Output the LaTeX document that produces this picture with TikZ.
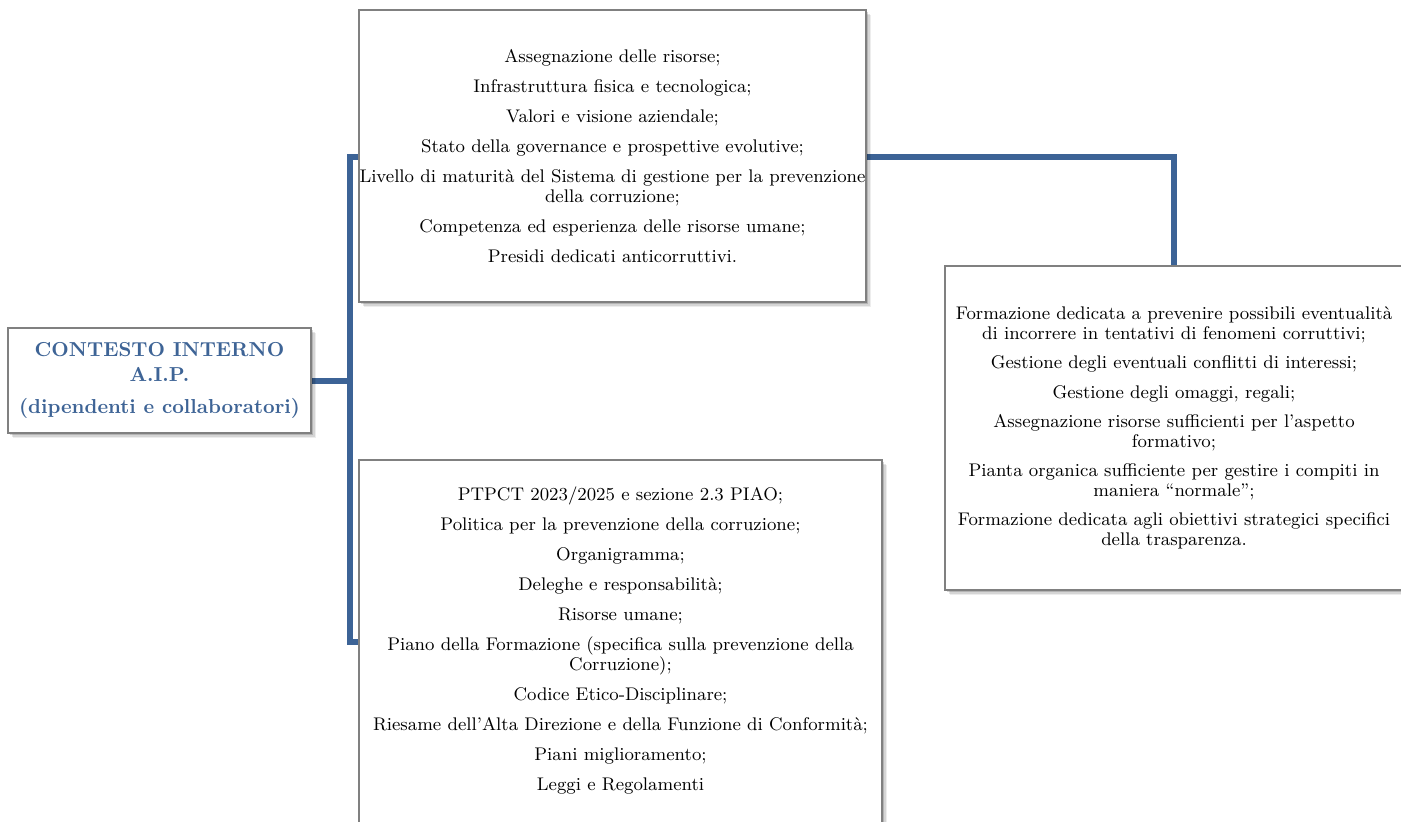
\documentclass[tikz,border=0pt]{standalone}
\usepackage{fontspec}
\usetikzlibrary{shadows,backgrounds}
\definecolor{linkblue}{RGB}{60,99,150}
\definecolor{titleblue}{RGB}{62,100,150}
\definecolor{boxgray}{RGB}{128,128,128}

\begin{document}
\begin{tikzpicture}[x=0.5pt,y=-0.5pt,
  card/.style={draw=boxgray, line width=0.6pt, fill=white, inner sep=0pt,
     drop shadow={shadow xshift=2.6pt, shadow yshift=-2.6pt, fill=black, opacity=0.07},
     drop shadow={shadow xshift=1.8pt, shadow yshift=-1.8pt, fill=black, opacity=0.10},
     drop shadow={shadow xshift=1pt, shadow yshift=-1pt, fill=black, opacity=0.16}},
  body/.style={align=center, font=\fontsize{9.15pt}{10pt}\selectfont},
  title/.style={align=center, text=titleblue, font=\fontsize{10.1pt}{12.5pt}\selectfont\bfseries},
  link/.style={draw=linkblue, line width=3pt}
]
\useasboundingbox (0,0) rectangle (1401,821);

% root card
\node[card, title, minimum width=151.5pt, minimum height=52.5pt] (left) at (159.5,380.5)
  {CONTESTO INTERNO\\ A.I.P.\\[3.5pt] (dipendenti e collaboratori)};

% upper card
\node[card, body, minimum width=253.5pt, minimum height=146pt] (top) at (612.5,156)
  {Assegnazione delle risorse;\\[5pt]
   Infrastruttura fisica e tecnologica;\\[5pt]
   Valori e visione aziendale;\\[5pt]
   Stato della governance e prospettive evolutive;\\[5pt]
   Livello di maturità del Sistema di gestione per la prevenzione\\
   della corruzione;\\[5pt]
   Competenza ed esperienza delle risorse umane;\\[5pt]
   Presidi dedicati anticorruttivi.};

% lower card (runs past the bottom of the page)
\node[card, minimum width=261.5pt, minimum height=195pt] (bot) at (620.5,655) {};
\node[body] (bottext) at (620.5,640.5)
  {PTPCT 2023/2025 e sezione 2.3 PIAO;\\[5pt]
   Politica per la prevenzione della corruzione;\\[5pt]
   Organigramma;\\[5pt]
   Deleghe e responsabilità;\\[5pt]
   Risorse umane;\\[5pt]
   Piano della Formazione (specifica sulla prevenzione della\\
   Corruzione);\\[5pt]
   Codice Etico-Disciplinare;\\[5pt]
   Riesame dell’Alta Direzione e della Funzione di Conformità;\\[5pt]
   Piani miglioramento;\\[5pt]
   Leggi e Regolamenti};

% right card
\node[card, body, minimum width=229pt, minimum height=162pt] (right) at (1174,428)
  {Formazione dedicata a prevenire possibili eventualità\\
   di incorrere in tentativi di fenomeni corruttivi;\\[4.6pt]
   Gestione degli eventuali conflitti di interessi;\\[4.6pt]
   Gestione degli omaggi, regali;\\[4.6pt]
   Assegnazione risorse sufficienti per l’aspetto\\
   formativo;\\[4.6pt]
   Pianta organica sufficiente per gestire i compiti in\\
   maniera “normale”;\\[4.6pt]
   Formazione dedicata agli obiettivi strategici specifici\\
   della trasparenza.};

% connectors
\coordinate (hub) at (350,381);
\coordinate (jt) at (350,157);
\coordinate (jb) at (350,642);
\begin{scope}[on background layer]
  \draw[link] (left.east |- hub) -- (hub);
  \draw[link] (top.west |- jt) -- (jt) -- (jb) -- (bot.west |- jb);
  \draw[link] (top.east |- jt) -| (right.north);
\end{scope}
\end{tikzpicture}
\end{document}
